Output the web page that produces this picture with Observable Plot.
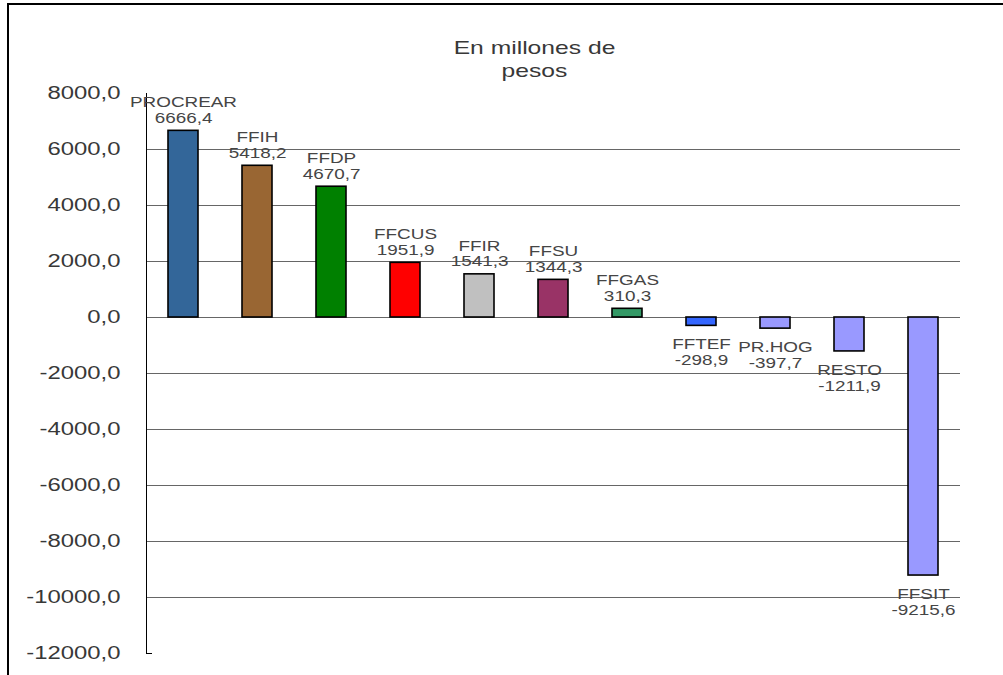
<!DOCTYPE html>
<html>
<head>
<meta charset="utf-8">
<script src="https://cdn.jsdelivr.net/npm/d3@7"></script>
<script src="https://cdn.jsdelivr.net/npm/@observablehq/plot@0.6"></script>
<style>
  html, body { margin: 0; padding: 0; background: #fff; }
  #wrap { position: relative; width: 1003px; height: 675px; overflow: hidden; }
  #border { position: absolute; left: 7px; top: 3px; width: 1010px; height: 700px;
            border-left: 2px solid #000; border-top: 2px solid #000; pointer-events: none; }
  #chart svg { display: block; }
</style>
</head>
<body>
<div id="wrap">
  <div id="chart"></div>
  <div id="border"></div>
</div>
<script>
const categories = ["PROCREAR", "FFIH", "FFDP", "FFCUS", "FFIR", "FFSU", "FFGAS", "FFTEF", "PR.HOG", "RESTO", "FFSIT"];
const values = [6666.4, 5418.2, 4670.7, 1951.9, 1541.3, 1344.3, 310.3, -298.9, -397.7, -1211.9, -9215.6];
const colors = ["#336699", "#996633", "#008000", "#FF0000", "#C0C0C0", "#993366", "#339966", "#3366FF", "#9999FF", "#9999FF", "#9999FF"];
const yTicks = [-12000, -10000, -8000, -6000, -4000, -2000, 0, 2000, 4000, 6000, 8000];
const gridValues = [-10000, -8000, -6000, -4000, -2000, 0, 2000, 4000, 6000];
const subtitle = "En millones de\npesos";

const fmt = v => v.toFixed(1).replace(".", ",");
const data = categories.map((name, i) => ({name, value: values[i], color: colors[i]}));
const pos = data.filter(d => d.value >= 0);
const neg = data.filter(d => d.value < 0);

const chart = Plot.plot({
  width: 1003,
  height: 675,
  marginLeft: 146,
  marginRight: 43,
  marginTop: 93,
  marginBottom: 22,
  style: {fontFamily: "'Liberation Sans', Arial, sans-serif", background: "transparent"},
  x: {domain: categories, paddingInner: 0.6, paddingOuter: 0.3, axis: null},
  y: {domain: [-12000, 8000], axis: null},
  marks: [
    Plot.ruleY(gridValues, {stroke: "#666", strokeWidth: 1}),
    Plot.ruleY([-12000], {stroke: "#000", insetRight: 808}),
    Plot.frame({anchor: "left", stroke: "#000", strokeWidth: 1}),
    Plot.axisY({
      ticks: yTicks, tickSize: 0, tickPadding: 26, tickFormat: fmt,
      fontSize: 18.5, fill: "#383838", label: null, className: "ticklabel"
    }),
    Plot.barY(data, {x: "name", y: "value", fill: "color", stroke: "#000", strokeWidth: 1.6}),
    Plot.text(pos, {
      x: "name", y: "value", text: d => d.name + "\n" + fmt(d.value),
      lineAnchor: "bottom", dy: -8, lineHeight: 1.05, fontSize: 15, fill: "#454545",
      className: "barlabel"
    }),
    Plot.text(neg, {
      x: "name", y: "value", text: d => d.name + "\n" + fmt(d.value),
      lineAnchor: "top", dy: 12, lineHeight: 1.07, fontSize: 15, fill: "#454545",
      className: "barlabel"
    }),
    Plot.text([subtitle], {
      frameAnchor: "top", dx: -19, dy: -55, lineAnchor: "top", lineHeight: 1.25,
      fontSize: 18, fill: "#383838", className: "subtitle"
    })
  ]
});
document.getElementById("chart").appendChild(chart);

// The reference's lettering is horizontally widened; stretch each label about its anchor.
function widen(selector, k) {
  chart.querySelectorAll(selector).forEach(t => {
    const tr = t.getAttribute("transform") || "";
    t.setAttribute("transform", (tr + ` scale(${k},1)`).trim());
  });
}
widen('g[aria-label="y-axis tick label"] text', 1.29);
widen('g.barlabel text', 1.26);
widen('g.subtitle text', 1.37);
</script>
</body>
</html>
